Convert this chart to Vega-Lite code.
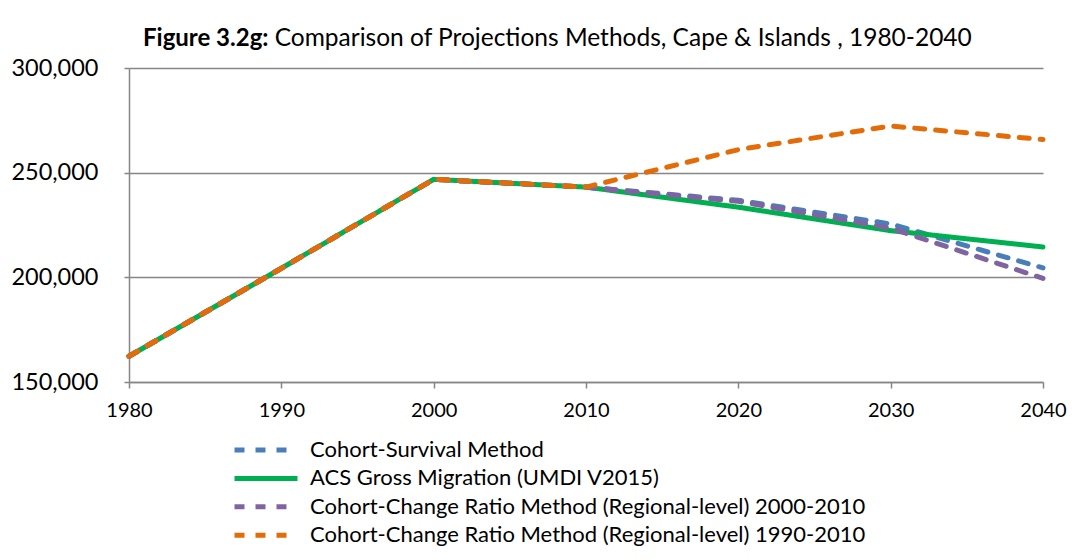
{
  "$schema": "https://vega.github.io/schema/vega-lite/v6.json",
  "width": 914,
  "height": 314,
  "autosize": {"type": "none"},
  "padding": {"left": 129, "top": 68, "right": 41, "bottom": 178},
  "background": "white",
  "title": {
    "text": "Figure 3.2g:",
    "subtitle": "\u200b\u00a0\u00a0\u00a0\u00a0\u00a0\u00a0\u00a0\u00a0\u00a0\u00a0\u00a0\u00a0\u00a0\u00a0\u00a0\u00a0\u00a0\u00a0\u00a0\u00a0\u00a0Comparison of Projections Methods, Cape & Islands , 1980-2040",
    "anchor": "start",
    "frame": "group",
    "dx": 14,
    "offset": 4,
    "font": "Lato",
    "fontSize": 24,
    "fontWeight": "bold",
    "color": "#000000",
    "subtitleFont": "Lato",
    "subtitleFontSize": 24.5,
    "subtitleColor": "#000000",
    "subtitlePadding": -24
  },
  "data": {
    "values": [
      {"year": 1980, "series": "Cohort-Survival Method", "value": 162300},
      {"year": 1990, "series": "Cohort-Survival Method", "value": 204300},
      {"year": 2000, "series": "Cohort-Survival Method", "value": 246800},
      {"year": 2010, "series": "Cohort-Survival Method", "value": 243100},
      {"year": 2020, "series": "Cohort-Survival Method", "value": 236800},
      {"year": 2030, "series": "Cohort-Survival Method", "value": 225500},
      {"year": 2040, "series": "Cohort-Survival Method", "value": 204500},
      {"year": 1980, "series": "ACS Gross Migration (UMDI V2015)", "value": 162300},
      {"year": 1990, "series": "ACS Gross Migration (UMDI V2015)", "value": 204300},
      {"year": 2000, "series": "ACS Gross Migration (UMDI V2015)", "value": 246800},
      {"year": 2010, "series": "ACS Gross Migration (UMDI V2015)", "value": 243100},
      {"year": 2020, "series": "ACS Gross Migration (UMDI V2015)", "value": 233500},
      {"year": 2030, "series": "ACS Gross Migration (UMDI V2015)", "value": 222300},
      {"year": 2040, "series": "ACS Gross Migration (UMDI V2015)", "value": 214500},
      {"year": 1980, "series": "Cohort-Change Ratio Method (Regional-level) 2000-2010", "value": 162300},
      {"year": 1990, "series": "Cohort-Change Ratio Method (Regional-level) 2000-2010", "value": 204300},
      {"year": 2000, "series": "Cohort-Change Ratio Method (Regional-level) 2000-2010", "value": 246800},
      {"year": 2010, "series": "Cohort-Change Ratio Method (Regional-level) 2000-2010", "value": 243100},
      {"year": 2020, "series": "Cohort-Change Ratio Method (Regional-level) 2000-2010", "value": 236300},
      {"year": 2030, "series": "Cohort-Change Ratio Method (Regional-level) 2000-2010", "value": 223500},
      {"year": 2040, "series": "Cohort-Change Ratio Method (Regional-level) 2000-2010", "value": 199500},
      {"year": 1980, "series": "Cohort-Change Ratio Method (Regional-level) 1990-2010", "value": 162300},
      {"year": 1990, "series": "Cohort-Change Ratio Method (Regional-level) 1990-2010", "value": 204300},
      {"year": 2000, "series": "Cohort-Change Ratio Method (Regional-level) 1990-2010", "value": 246800},
      {"year": 2010, "series": "Cohort-Change Ratio Method (Regional-level) 1990-2010", "value": 243100},
      {"year": 2020, "series": "Cohort-Change Ratio Method (Regional-level) 1990-2010", "value": 261000},
      {"year": 2030, "series": "Cohort-Change Ratio Method (Regional-level) 1990-2010", "value": 272300},
      {"year": 2040, "series": "Cohort-Change Ratio Method (Regional-level) 1990-2010", "value": 265800}
    ]
  },
  "encoding": {
    "x": {
      "field": "year",
      "type": "quantitative",
      "scale": {"domain": [1980, 2040], "nice": false, "zero": false},
      "axis": {
        "title": null,
        "values": [1980, 1990, 2000, 2010, 2020, 2030, 2040],
        "format": "d",
        "grid": false,
        "domainColor": "#868686",
        "domainWidth": 1.5,
        "tickColor": "#868686",
        "tickWidth": 1.5,
        "tickSize": 6,
        "labelFont": "Lato",
        "labelFontSize": 20,
        "labelColor": "#000000",
        "labelPadding": 12,
        "labelFlush": false
      }
    },
    "y": {
      "field": "value",
      "type": "quantitative",
      "scale": {"domain": [150000, 300000], "nice": false, "zero": false},
      "axis": {
        "title": null,
        "values": [150000, 200000, 250000, 300000],
        "format": ",d",
        "grid": true,
        "gridColor": "#868686",
        "gridWidth": 1.5,
        "domainColor": "#868686",
        "domainWidth": 1.5,
        "tickColor": "#868686",
        "tickWidth": 1.5,
        "tickSize": 5,
        "labelFont": "Lato",
        "labelFontSize": 23.5,
        "labelColor": "#000000",
        "labelPadding": 26
      }
    },
    "color": {
      "field": "series",
      "type": "nominal",
      "scale": {
        "domain": ["Cohort-Survival Method", "ACS Gross Migration (UMDI V2015)", "Cohort-Change Ratio Method (Regional-level) 2000-2010", "Cohort-Change Ratio Method (Regional-level) 1990-2010"],
        "range": ["#4A7EBB", "#00B050", "#8064A2", "#E36C09"]
      },
      "legend": {
        "title": null,
        "orient": "none",
        "legendX": 103,
        "legendY": 369,
        "symbolType": "stroke",
        "symbolSize": 3969,
        "symbolStrokeWidth": 5,
        "labelFont": "Lato",
        "labelFontSize": 22,
        "labelColor": "#000000",
        "labelOffset": 10,
        "clipHeight": 26,
        "rowPadding": 2.4,
        "padding": 0,
        "labelLimit": 700
      }
    },
    "strokeDash": {
      "field": "series",
      "type": "nominal",
      "scale": {
        "domain": ["Cohort-Survival Method", "ACS Gross Migration (UMDI V2015)", "Cohort-Change Ratio Method (Regional-level) 2000-2010", "Cohort-Change Ratio Method (Regional-level) 1990-2010"],
        "range": [[10, 11], [1, 0], [10, 11], [10, 11]]
      },
      "legend": null
    }
  },
  "layer": [
    {"transform": [{"filter": "datum.series === 'Cohort-Survival Method'"}], "mark": {"type": "line", "strokeWidth": 5, "strokeCap": "round"}},
    {"transform": [{"filter": "datum.series === 'ACS Gross Migration (UMDI V2015)'"}], "mark": {"type": "line", "strokeWidth": 5, "strokeCap": "round"}},
    {"transform": [{"filter": "datum.series === 'Cohort-Change Ratio Method (Regional-level) 2000-2010'"}], "mark": {"type": "line", "strokeWidth": 5, "strokeCap": "round"}},
    {"transform": [{"filter": "datum.series === 'Cohort-Change Ratio Method (Regional-level) 1990-2010'"}], "mark": {"type": "line", "strokeWidth": 5, "strokeCap": "round"}}
  ],
  "config": {
    "view": {"stroke": null}
  }
}
